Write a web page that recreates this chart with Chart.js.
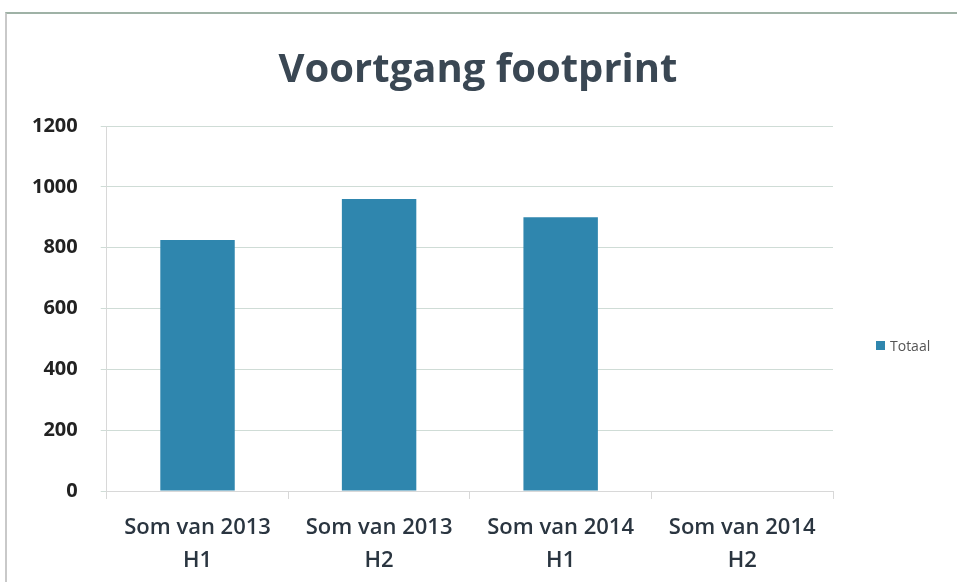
<!DOCTYPE html>
<html>
<head>
<meta charset="utf-8">
<script src="https://cdn.jsdelivr.net/npm/chart.js@4/dist/chart.umd.min.js"></script>
<style>
  html, body { margin: 0; padding: 0; background: #fff; }
  #wrap { position: relative; width: 957px; height: 582px; overflow: hidden; }
  #frame { position: absolute; left: 5px; top: 12px; width: 960px; height: 600px;
           border-left: 2px solid #c9c9c9; border-top: 2px solid #9fb2a6; }
  #box { position: absolute; left: 0; top: 0; width: 957px; height: 595px; }
  #legend { position: absolute; left: 876px; top: 336px; font: 14px 'Open Sans', sans-serif;
            color: #555; display: flex; align-items: center; gap: 5px; }
  #legend span.sw { display: inline-block; width: 9px; height: 9px; }
</style>
</head>
<body>
<div id="wrap">
  <div id="frame"></div>
  <div id="box"><canvas id="chart"></canvas></div>
  <div id="legend"></div>
</div>
<script>
const categories = [
  ["Som van 2013", "H1"],
  ["Som van 2013", "H2"],
  ["Som van 2014", "H1"],
  ["Som van 2014", "H2"]
];
const seriesName = "Totaal";
const totaal = [825, 960, 900, 0];
const yTicks = [0, 200, 400, 600, 800, 1000, 1200];
const barColor = "#2f86ae";

const FONT = "'Open Sans', sans-serif";

// legend sits outside the plot, a bit below centre like the original
document.getElementById("legend").innerHTML =
  `<span class="sw" style="background:${barColor}"></span><span>${seriesName}</span>`;

const ctx = document.getElementById("chart").getContext("2d");
const chart = new Chart(ctx, {
  type: "bar",
  data: {
    labels: categories,
    datasets: [
      { label: seriesName, data: totaal, backgroundColor: barColor,
        categoryPercentage: 1, barPercentage: 0.41 }
    ]
  },
  options: {
    responsive: true,
    maintainAspectRatio: false,
    animation: false,
    layout: { padding: { left: 9, right: 10, top: 0, bottom: 6 } },
    plugins: {
      title: {
        display: true, text: "Voortgang footprint", color: "#3a4753",
        font: { family: FONT, size: 40, weight: "bold", lineHeight: 1.2 },
        padding: { top: 47, bottom: 31 }
      },
      legend: { display: false },
      tooltip: { enabled: false }
    },
    scales: {
      x: {
        grid: { display: true, offset: true, drawOnChartArea: false, tickLength: 8, color: "#d8d8d8" },
        border: { color: "#d8d8d8" },
        ticks: { color: "#2a3540", padding: 12, font: { family: FONT, size: 22, weight: "600", lineHeight: 1.5 } }
      },
      y: {
        min: 0, max: 1200,
        afterBuildTicks: (axis) => { axis.ticks = yTicks.map(v => ({ value: v })); },
        grid: { color: "#cfdcd6", tickLength: 6 },
        border: { color: "#d8d8d8" },
        ticks: { color: "#222", padding: 23, callback: (v) => String(v),
                 font: { family: FONT, size: 20, weight: "bold" } }
      },
      // empty right axis only keeps room for the legend
      legendRoom: {
        type: "linear", position: "right", min: 0, max: 1200,
        grid: { display: false }, border: { display: false }, ticks: { display: false },
        afterFit: (axis) => { axis.width = 114; }
      }
    }
  }
});
</script>
</body>
</html>
